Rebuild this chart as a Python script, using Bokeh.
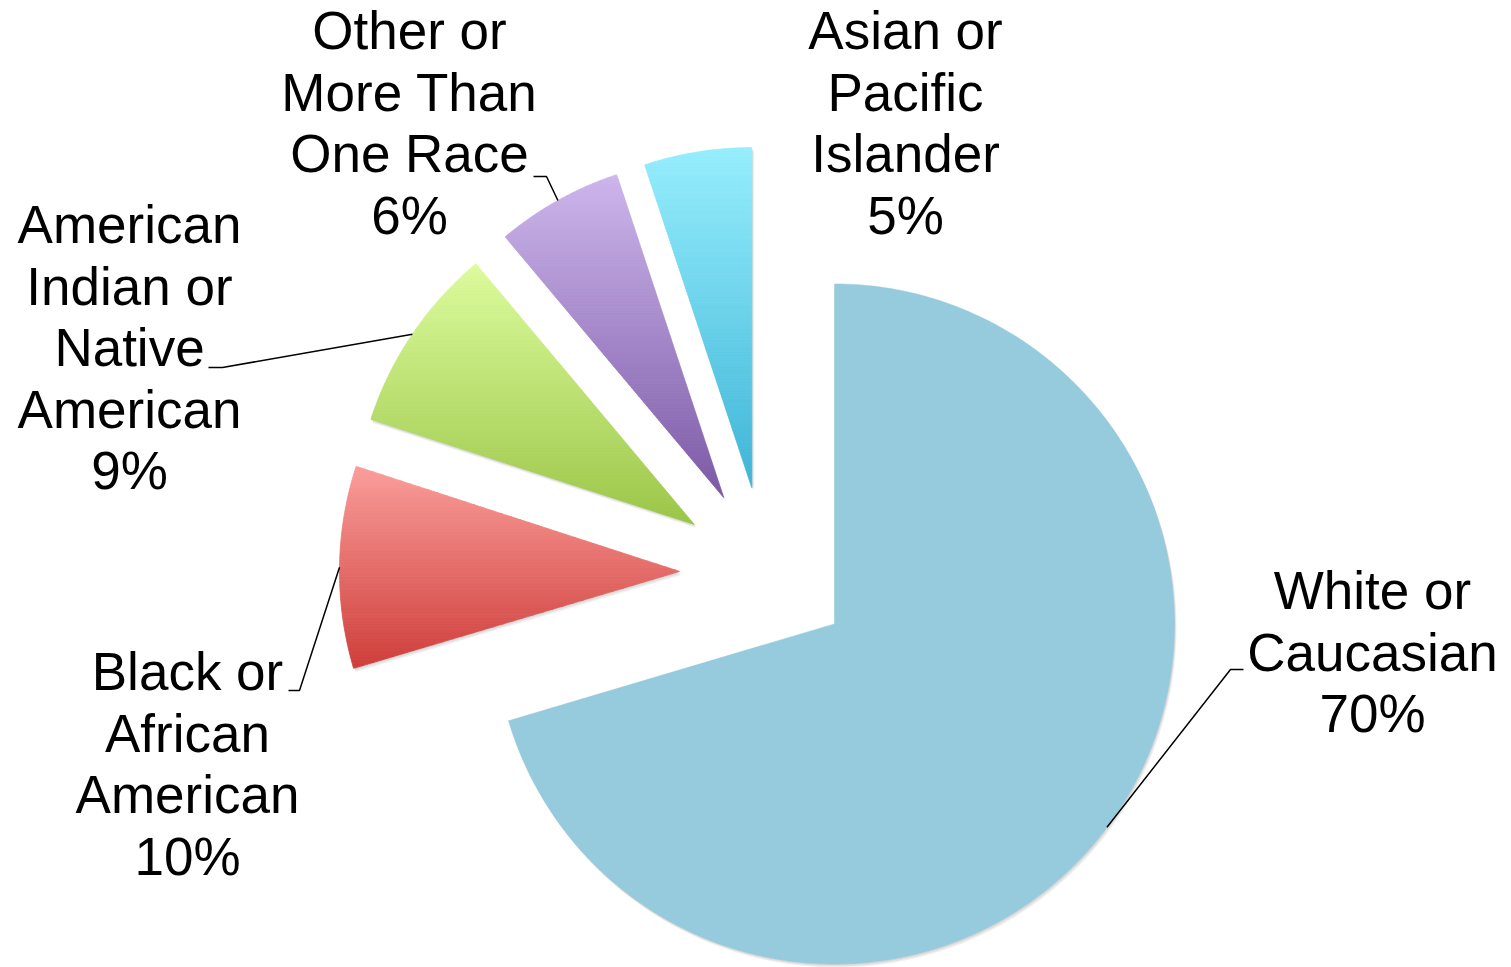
import math
from bokeh.plotting import figure
from bokeh.models import Range1d, ColumnDataSource
from bokeh.core.properties import value
from bokeh.embed import file_html
from bokeh.resources import INLINE

# ---------------- data ----------------
categories = ["White or Caucasian", "Black or African American",
              "American Indian or Native American",
              "Other or More Than One Race", "Asian or Pacific Islander"]
label_lines = [["White or", "Caucasian"],
               ["Black or", "African", "American"],
               ["American", "Indian or", "Native", "American"],
               ["Other or", "More Than", "One Race"],
               ["Asian or", "Pacific", "Islander"]]
shares = [70.4, 9.6, 8.9, 6.0, 5.1]
top_colors = ["#95CBDC", "#FA9E9B", "#DDFC9D", "#CDB6EC", "#96EEFD"]
bottom_colors = ["#95CBDC", "#CF3E3A", "#9BC648", "#7C59A7", "#3FB5D7"]

# ---------------- layout ----------------
W, H = 1511, 967
CX, CY = 765.0, H - 572.0
R = 340.0
EXPLODE = 86.0
FONT = "Liberation Sans"
FONT_SIZE = "53px"
LINE_STEP = 61.5
label_x = [1372, 187, 129, 409, 905]
label_first_baseline = [590, 671, 224, 30, 30]          # screen y
leader_text_pt = [(1243, 669), (288, 690), (208, 367), (533, 176), None]
leader_elbow_dx = [-13, 11, 14, 13, 0]


def sy(y):
    return H - y


def hex2rgb(h):
    h = h.lstrip("#")
    return tuple(int(h[i:i + 2], 16) for i in (0, 2, 4))


def mix(c1, c2, t):
    a, b = hex2rgb(c1), hex2rgb(c2)
    return "#%02x%02x%02x" % tuple(int(round(a[i] + (b[i] - a[i]) * t)) for i in range(3))


def clip(poly, y0, keep_above):
    out = []
    n = len(poly)
    for i in range(n):
        cur, prev = poly[i], poly[i - 1]
        cin = cur[1] >= y0 if keep_above else cur[1] <= y0
        pin = prev[1] >= y0 if keep_above else prev[1] <= y0
        if cin != pin:
            t = (y0 - prev[1]) / (cur[1] - prev[1])
            out.append((prev[0] + t * (cur[0] - prev[0]), y0))
        if cin:
            out.append(cur)
    return out


total = sum(shares)
p = figure(width=W, height=H, x_range=Range1d(0, W), y_range=Range1d(0, H),
           output_backend="svg", toolbar_location=None,
           x_axis_location=None, y_axis_location=None, min_border=0)
p.grid.visible = False
p.outline_line_color = None
p.background_fill_color = "white"
p.border_fill_color = "white"

slices = []
cum = 0.0
for i, v in enumerate(shares):
    a_start = 90.0 - 360.0 * cum / total
    cum += v
    a_end = 90.0 - 360.0 * cum / total
    mid = math.radians((a_start + a_end) / 2)
    cx = CX + EXPLODE * math.cos(mid)
    cy = CY + EXPLODE * math.sin(mid)
    nseg = max(8, int(abs(a_start - a_end) * 2))
    pts = [(cx, cy)]
    for k in range(nseg + 1):
        a = math.radians(a_end + (a_start - a_end) * k / nseg)
        pts.append((cx + R * math.cos(a), cy + R * math.sin(a)))
    slices.append(dict(cx=cx, cy=cy, mid=mid, pts=pts, a_start=a_start, a_end=a_end))

# shadows
sh_xs, sh_ys = [], []
for s in slices:
    for off in (1.2, 2.4, 3.6):
        sh_xs.append([x + off * 0.6 for x, _ in s["pts"]])
        sh_ys.append([y - off for _, y in s["pts"]])
p.patches(sh_xs, sh_ys, fill_color="black", fill_alpha=0.06, line_color=None)

# slices with vertical gradient bands
for i, s in enumerate(slices):
    pts = s["pts"]
    if top_colors[i] == bottom_colors[i]:
        p.patch([x for x, _ in pts], [y for _, y in pts],
                fill_color=top_colors[i], line_color=top_colors[i], line_width=0.5)
        continue
    ymin = min(y for _, y in pts)
    ymax = max(y for _, y in pts)
    nb = int(math.ceil((ymax - ymin) / 3.0))
    xs, ys, cols = [], [], []
    for b in range(nb):
        hi = ymax - b * (ymax - ymin) / nb
        lo = ymax - (b + 1) * (ymax - ymin) / nb
        poly = clip(clip(pts, lo, True), hi, False)
        if len(poly) < 3:
            continue
        t = (b + 0.5) / nb
        xs.append([x for x, _ in poly])
        ys.append([y for _, y in poly])
        cols.append(mix(top_colors[i], bottom_colors[i], t))
    p.patches(xs, ys, fill_color=cols, line_color=cols, line_width=0.8)

# leader lines
lxs, lys = [], []
for i, s in enumerate(slices):
    tp = leader_text_pt[i]
    if tp is None:
        continue
    ax = s["cx"] + R * math.cos(s["mid"])
    ay = s["cy"] + R * math.sin(s["mid"])
    ex = tp[0] + leader_elbow_dx[i]
    lxs.append([ax, ex, tp[0]])
    lys.append([ay, sy(tp[1]), sy(tp[1])])
p.multi_line(lxs, lys, line_color="black", line_width=1.5)

# labels
tx, ty, tt = [], [], []
for i, lines in enumerate(label_lines):
    full = lines + ["%d%%" % round(shares[i])]
    for j, ln in enumerate(full):
        tx.append(label_x[i])
        ty.append(sy(label_first_baseline[i] + j * LINE_STEP))
        tt.append(ln)
src = ColumnDataSource(dict(x=tx, y=ty, text=tt))
p.text(x="x", y="y", text="text", source=src, text_font=value(FONT),
       text_font_size=FONT_SIZE, text_align="center", text_baseline="alphabetic",
       text_color="black")

open("out.html", "w").write(file_html(p, INLINE))
